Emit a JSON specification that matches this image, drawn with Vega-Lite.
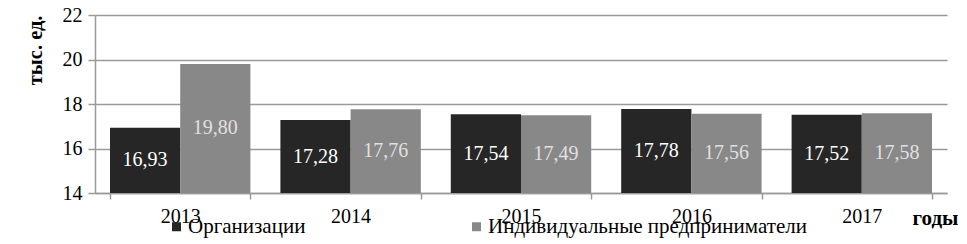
{
  "$schema": "https://vega.github.io/schema/vega-lite/v6.json",
  "width": 852,
  "height": 178,
  "autosize": {"type": "none"},
  "padding": {"left": 95, "top": 15, "right": 20, "bottom": 51},
  "background": "white",
  "config": {"view": {"stroke": null}, "font": "Liberation Serif"},
  "data": {"values": [
    {"year": "2013", "type": "Организации", "value": 16.93, "label": "16,93"},
    {"year": "2013", "type": "Индивидуальные предприниматели", "value": 19.80, "label": "19,80"},
    {"year": "2014", "type": "Организации", "value": 17.28, "label": "17,28"},
    {"year": "2014", "type": "Индивидуальные предприниматели", "value": 17.76, "label": "17,76"},
    {"year": "2015", "type": "Организации", "value": 17.54, "label": "17,54"},
    {"year": "2015", "type": "Индивидуальные предприниматели", "value": 17.49, "label": "17,49"},
    {"year": "2016", "type": "Организации", "value": 17.78, "label": "17,78"},
    {"year": "2016", "type": "Индивидуальные предприниматели", "value": 17.56, "label": "17,56"},
    {"year": "2017", "type": "Организации", "value": 17.52, "label": "17,52"},
    {"year": "2017", "type": "Индивидуальные предприниматели", "value": 17.58, "label": "17,58"}
  ]},
  "encoding": {
    "x": {
      "field": "year", "type": "nominal",
      "scale": {"paddingInner": 0.176, "paddingOuter": 0.088},
      "axis": {
        "title": "годы", "titleFont": "Liberation Serif", "titleFontSize": 21, "titleFontWeight": "bold",
        "titleX": 817, "titleY": 25, "titleAlign": "left", "titleBaseline": "middle", "titleAnchor": null,
        "labelAngle": 0, "labelFont": "Liberation Serif", "labelFontSize": 20, "labelColor": "#000000",
        "labelPadding": 7, "tickBand": "extent", "tickSize": 6, "tickColor": "#9a9a9a", "tickWidth": 1.5,
        "domainColor": "#9a9a9a", "domainWidth": 1.5, "grid": false
      }
    },
    "xOffset": {"field": "type", "type": "nominal", "sort": ["Организации", "Индивидуальные предприниматели"], "scale": {"paddingInner": 0, "paddingOuter": 0}}
  },
  "resolve": {"scale": {"y": "independent"}},
  "layer": [
    {
      "mark": {"type": "bar", "clip": true},
      "encoding": {
        "y": {
          "field": "value", "type": "quantitative",
          "scale": {"domain": [14, 22], "zero": false, "nice": false},
          "axis": {
            "values": [14, 16, 18, 20, 22], "title": "тыс. ед.",
            "titleFont": "Liberation Serif", "titleFontSize": 20.5, "titleFontWeight": "bold", "titleColor": "#000000",
            "titleAngle": -90, "titleX": -60, "titleY": 0, "titleAlign": "right", "titleBaseline": "middle", "titleAnchor": null,
            "labelFont": "Liberation Serif", "labelFontSize": 20, "labelColor": "#000000", "labelPadding": 6,
            "tickSize": 7, "tickColor": "#9a9a9a", "tickWidth": 1.5,
            "domainColor": "#9a9a9a", "domainWidth": 1.5,
            "grid": true, "gridColor": "#9a9a9a", "gridWidth": 1.5
          }
        },
        "y2": {"datum": 14},
        "color": {
          "field": "type", "type": "nominal",
          "sort": ["Организации", "Индивидуальные предприниматели"],
          "scale": {"domain": ["Организации", "Индивидуальные предприниматели"], "range": ["#262626", "#888888"]},
          "legend": {
            "title": null, "orient": "none", "direction": "horizontal",
            "legendX": 71, "legendY": 201,
            "symbolType": "square", "symbolSize": 81, "symbolStrokeWidth": 0,
            "labelFont": "Liberation Serif", "labelFontSize": 21, "labelColor": "#000000", "labelLimit": 500,
            "labelOffset": 1, "columnPadding": 160
          }
        }
      }
    },
    {
      "mark": {"type": "text", "font": "Liberation Serif", "fontSize": 20, "baseline": "middle", "align": "center"},
      "encoding": {
        "y": {"field": "value", "type": "quantitative", "scale": {"domain": [14, 30], "zero": false, "nice": false}, "axis": null},
        "text": {"field": "label"},
        "color": {
          "condition": {"test": "datum.type === 'Организации'", "value": "#ffffff"},
          "value": "#e0e0e0"
        }
      }
    }
  ]
}
